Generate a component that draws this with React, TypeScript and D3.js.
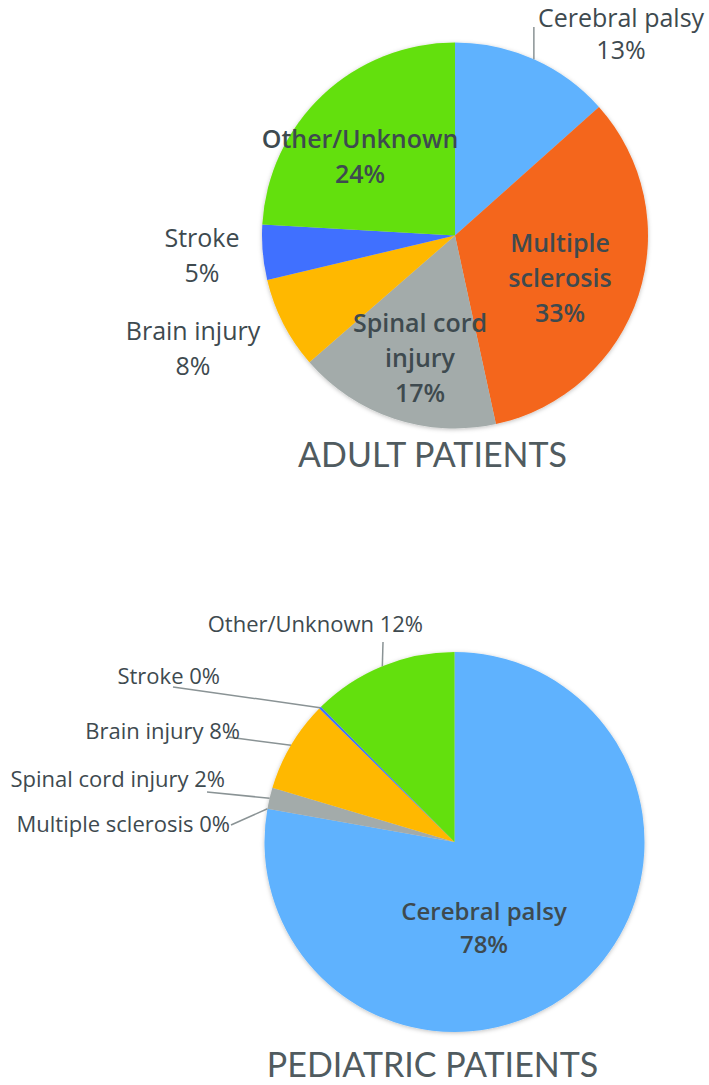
import React from "react";
import * as d3 from "d3";

// categories in slice order (clockwise from 12 o'clock)
const categories = [
  "Cerebral palsy",
  "Multiple sclerosis",
  "Spinal cord injury",
  "Brain injury",
  "Stroke",
  "Other/Unknown",
];

// share of patients, %
const adultValues = [13.4, 33.2, 17.0, 7.7, 4.6, 24.1];
const pediatricValues = [77.8, 0, 1.8, 7.8, 0.2, 12.4];

const sliceColors = ["#5fb2fe", "#f4661b", "#a3abaa", "#ffb800", "#4170ff", "#63e00a"];

const TEXT = "#3e4a4f";
const LEADER = "#8a9395";
const FONT = "'Open Sans', Lato, sans-serif";

// label layout for the adult pie: line breaks and anchor (x, first baseline)
const adultLines = [
  ["Cerebral palsy"],
  ["Multiple", "sclerosis"],
  ["Spinal cord", "injury"],
  ["Brain injury"],
  ["Stroke"],
  ["Other/Unknown"],
];
const adultLabelPos = [
  [621, 27],
  [560, 252],
  [420, 332],
  [193, 340],
  [202, 247],
  [360, 148],
];
const adultInside = [false, true, true, false, false, true];

// label layout for the pediatric pie: text end (x, baseline)
const pedLabelPos = [
  [484, 920],
  [230, 832],
  [225, 787],
  [240, 739],
  [220, 684],
  [423, 632],
];
const pedLeaderStart = [
  null,
  [231, 825],
  [207, 792],
  [228, 737],
  [173, 687],
  [383, 642],
];

const adult = { cx: 455, cy: 235.5, r: 193 };
const ped = { cx: 454.5, cy: 842, r: 190 };

const pie = d3.pie<number>().sort(null).value((d) => d);

const edgePoint = (c: { cx: number; cy: number; r: number }, a: number) => [
  c.cx + c.r * Math.sin(a),
  c.cy - c.r * Math.cos(a),
];

const App = () => {
  const adultArcs = pie(adultValues);
  const pedArcs = pie(pediatricValues);
  const arcA = d3.arc<d3.PieArcDatum<number>>().innerRadius(0).outerRadius(adult.r);
  const arcP = d3.arc<d3.PieArcDatum<number>>().innerRadius(0).outerRadius(ped.r);
  const pct = d3.format(".0f");

  return (
    <svg
      width={709}
      height={1085}
      style={{ position: "absolute", left: 0, top: 0, background: "#fff" }}
      fontFamily={FONT}
    >
      <defs>
        <filter id="shadow" x="-10%" y="-10%" width="120%" height="120%">
          <feDropShadow dx="0" dy="1" stdDeviation="2" floodColor="#000" floodOpacity="0.25" />
        </filter>
      </defs>

      {/* adult pie */}
      <g transform={`translate(${adult.cx},${adult.cy})`} filter="url(#shadow)">
        {adultArcs.map((d, i) => (
          <path key={i} d={arcA(d) || ""} fill={sliceColors[i]} />
        ))}
      </g>
      {adultArcs.map((d, i) => {
        if (i !== 0) return null;
        const [ex, ey] = edgePoint(adult, (d.startAngle + d.endAngle) / 2);
        return (
          <line key={i} x1={ex} y1={ey} x2={ex} y2={adultLabelPos[i][1]} stroke={LEADER} strokeWidth={1.5} />
        );
      })}
      {adultArcs.map((d, i) => {
        const [x, y] = adultLabelPos[i];
        const lines = [...adultLines[i], `${pct(d.data)}%`];
        return (
          <text
            key={i}
            x={x}
            y={y}
            textAnchor="middle"
            fill={TEXT}
            fontSize={25}
            fontWeight={adultInside[i] ? 600 : 400}
          >
            {lines.map((s, j) => (
              <tspan key={j} x={x} dy={j === 0 ? 0 : i === 0 ? 32 : 35}>
                {s}
              </tspan>
            ))}
          </text>
        );
      })}
      <text x={432.5} y={467} textAnchor="middle" fontSize={34} fill="#505b5f" fontFamily="Lato, sans-serif">
        ADULT PATIENTS
      </text>

      {/* pediatric pie */}
      <g transform={`translate(${ped.cx},${ped.cy})`} filter="url(#shadow)">
        {pedArcs.map((d, i) => (
          <path key={i} d={arcP(d) || ""} fill={sliceColors[i]} />
        ))}
      </g>
      {pedArcs.map((d, i) => {
        const s = pedLeaderStart[i];
        if (!s) return null;
        const [ex, ey] = edgePoint(ped, (d.startAngle + d.endAngle) / 2);
        return <line key={i} x1={s[0]} y1={s[1]} x2={ex} y2={ey} stroke={LEADER} strokeWidth={1.5} />;
      })}
      {pedArcs.map((d, i) => {
        const [x, y] = pedLabelPos[i];
        if (i === 0) {
          return (
            <text key={i} x={x} y={y} textAnchor="middle" fill={TEXT} fontSize={24} fontWeight={600}>
              <tspan x={x}>{categories[i]}</tspan>
              <tspan x={x} dy={33}>{`${pct(d.data)}%`}</tspan>
            </text>
          );
        }
        return (
          <text key={i} x={x} y={y} textAnchor="end" fill={TEXT} fontSize={22}>
            {`${categories[i]} ${pct(d.data)}%`}
          </text>
        );
      })}
      <text x={432.5} y={1077} textAnchor="middle" fontSize={34} fill="#505b5f" fontFamily="Lato, sans-serif">
        PEDIATRIC PATIENTS
      </text>
    </svg>
  );
};

export default App;
